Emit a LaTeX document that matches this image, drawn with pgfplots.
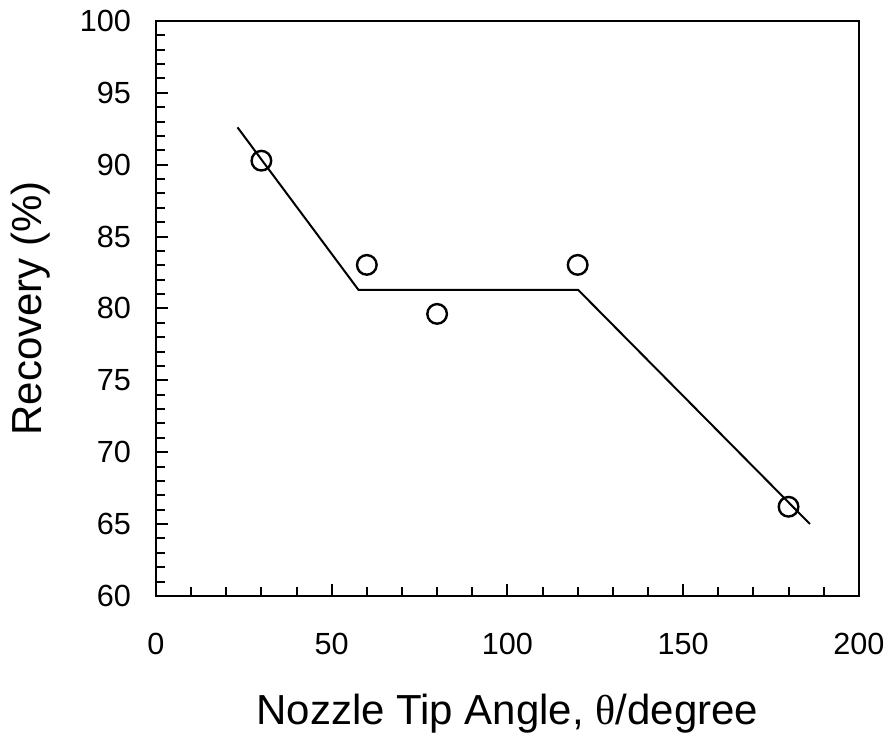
\documentclass[border=0pt]{standalone}
\usepackage{fontspec}
\setmainfont{Liberation Sans}
\newfontfamily\greekserif{Liberation Serif}
\usepackage{pgfplots}
\pgfplotsset{compat=1.18}
\begin{document}
\begin{tikzpicture}
\begin{axis}[
  scale only axis,
  width=351.5pt, height=287.5pt,
  xmin=0, xmax=200, ymin=60, ymax=100,
  xtick={0,50,...,200}, ytick={60,65,...,100},
  minor x tick num=4, minor y tick num=4,
  tick align=inside,
  xtick pos=bottom, ytick pos=left,
  major tick length=5.8pt, minor tick length=4.3pt,
  every tick/.style={black, line width=1pt},
  axis line style={line width=1.3pt},
  /pgf/number format/assume math mode=true,
  ticklabel style={font=\fontsize{15.3}{18}\selectfont},
  xticklabel style={yshift=-15pt},
  yticklabel style={xshift=-9pt},
  xlabel={Nozzle Tip Angle, {\greekserif θ}/degree},
  ylabel={Recovery (\%)},
  label style={font=\fontsize{21}{25}\selectfont},
  xlabel style={at={(axis description cs:0.5,-0.224)}, anchor=base},
  ylabel style={at={(axis description cs:-0.179,0.5)}, anchor=center},
  clip=false,
]
\addplot[black, line width=1pt] coordinates {
  (23.2,92.6) (57.6,81.3) (120.1,81.3) (186.1,65.0)
};
\addplot[only marks, mark=o, mark size=4.9pt, mark options={black, line width=1.2pt, fill=white}] coordinates {
  (30,90.28) (60,83.03) (80,79.62) (120,83.03) (180,66.2)
};
\path (axis description cs:0,0) ++(-78pt,-72pt) coordinate (bl);
\path (axis description cs:0,0) ++(367.5pt,298pt) coordinate (tr);
\end{axis}
\path[use as bounding box] (bl) rectangle (tr);
\end{tikzpicture}
\end{document}
